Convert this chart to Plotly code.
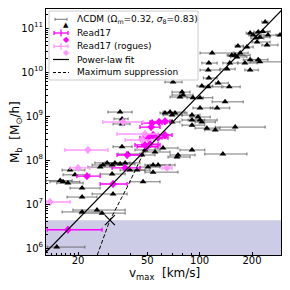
import plotly.graph_objects as go

# ---------------- data ----------------
# LCDM haloes: vmax [km/s], Mb [Msun/h], vmax error-bar ends
lcdm_v = [238, 195, 203, 217, 231, 247, 222, 211, 214, 244, 187, 166, 290,
          118, 153, 160, 171, 164, 195, 217, 222, 149, 182, 113, 112, 144, 195,
          113, 103, 112, 128, 148, 79.2, 80.3, 77.1, 91.6, 100.5, 140, 100.5, 126,
          67.6, 72.2, 69.4, 90.4, 100.5, 69.4, 63.2, 70.3,
          34.9, 35.8, 35.8, 90.4, 97.9, 103, 123, 160, 110, 90.4,
          35.8, 38.8, 48.5, 46.6, 55.4, 61.6, 75.1, 74.1, 90.4, 136,
          54.0, 54.0, 27.8, 29.4, 31.4, 32.6, 34.9, 37.3, 26.8, 39.8, 43.7, 50.5, 57.7,
          18.0, 19.2, 31.4, 16.4, 17.5, 15.8, 47.3, 21.1, 31.8, 21.1, 21.1, 25.7, 27.5, 15.1]
lcdm_M = [1.37e11, 7.7e10, 6.9e10, 8.1e10, 8.3e10, 6.9e10, 6.2e10, 5.9e10, 4.8e10, 4.1e10, 3.7e10, 3.9e10, 6.9e10,
          2.7e10, 2.4e10, 2.4e10, 2.7e10, 2.2e10, 1.9e10, 1.9e10, 1.7e10, 1.6e10, 1.6e10, 1.6e10, 1.11e10, 1.17e10, 1.11e10,
          7.3e9, 4.8e9, 4.6e9, 5.6e9, 4.6e9, 3.5e9, 3.0e9, 2.7e9, 2.6e9, 2.6e9, 2.1e9, 1.52e9, 1.52e9,
          1.23e9, 1.17e9, 1.05e9, 1.05e9, 8.1e8, 7.3e8, 1.17e9, 5.9e9,
          1.23e9, 8.6e8, 6.6e8, 8.1e8, 9.5e8, 7.3e8, 4.8e8, 5.6e8, 5.3e8, 6.2e8,
          2.0e8, 1.37e8, 1.69e8, 1.30e8, 1.52e8, 1.87e8, 1.30e8, 1.17e8, 1.69e8, 1.37e8,
          7.7e7, 5.3e7, 7.7e7, 8.6e7, 7.7e7, 8.6e7, 8.1e7, 8.6e7, 6.9e7, 5.9e7, 5.9e7, 6.9e7, 7.7e7,
          5.9e7, 4.6e7, 4.8e7, 3.2e7, 3.0e7, 3.4e7, 3.2e7, 2.3e7, 1.69e7, 1.44e7, 6.6e6, 7.3e6, 6.2e6, 1.05e6]
lcdm_vlo = [228, 185, 192, 205, 219, 234, 208, 197, 200, 228, 178, 160, 275,
            100.5, 144, 146, 158, 151, 178, 200, 195, 136, 166, 103, 100.5, 131, 182,
            105, 96.6, 105, 123, 136, 69.4, 69.4, 67.6, 84.6, 96.6, 118, 91.6, 115,
            61.6, 63.2, 61.6, 79.2, 85.8, 61.6, 59.2, 63.2,
            29.7, 32.2, 31.8, 79.2, 88.1, 94.1, 107, 123, 94.1, 79.2,
            31.8, 34.0, 42.5, 39.8, 48.5, 55.4, 67.6, 65.8, 77.1, 107,
            48.5, 48.5, 24.1, 25.0, 26.8, 28.6, 30.5, 32.6, 22.8, 34.9, 38.3, 45.4, 51.9,
            16.2, 16.4, 26.8, 13.8, 15.1, 13.1, 39.8, 18.0, 24.1, 17.3, 16.2, 18.7, 20.5, 13.3]
lcdm_vhi = [247, 211, 228, 247, 254, 282, 254, 234, 254, 282, 203, 178, 298,
            156, 182, 195, 190, 187, 222, 247, 298, 166, 214, 126, 131, 160, 217,
            126, 119, 134, 146, 171, 88.1, 91.6, 90.4, 105, 119, 178, 119, 149,
            82.4, 84.6, 79.2, 100.5, 126, 77.1, 72.2, 79.2,
            40.9, 38.8, 39.8, 107, 115, 123, 160, 238, 131, 107,
            40.9, 45.4, 59.2, 55.4, 67.6, 75.1, 94.1, 88.1, 107, 187,
            72.2, 75.1, 32.6, 34.9, 37.3, 39.8, 42.5, 45.4, 31.4, 48.5, 51.9, 59.2, 67.6,
            21.9, 23.4, 37.3, 20.5, 21.4, 18.5, 59.2, 26.8, 38.3, 25.7, 26.8, 37.3, 37.3, 21.9]

# Read17 dwarfs
read_v = [17.5, 22.5, 31.8, 37.3, 38.3, 48.5, 51.9, 49.8, 54.0, 50.5, 57.7, 63.2, 58.4, 53.3, 52.6, 63.2]
read_M = [2.6e6, 4.3e7, 2.85e7, 6.6e7, 1.30e8, 2.2e8, 2.3e8, 2.0e8, 3.7e8, 3.2e8, 3.2e8, 3.7e8, 7.3e8, 6.9e8, 5.6e8, 7.6e8]
read_vlo = [13.3, 19.7, 26.8, 31.4, 33.5, 42.5, 46.6, 43.7, 47.3, 45.4, 51.9, 57.7, 51.9, 46.6, 45.4, 59.2]
read_vhi = [27.5, 26.8, 38.3, 45.4, 45.4, 59.2, 57.7, 57.7, 63.2, 60.8, 65.8, 69.4, 64.9, 60.8, 59.2, 67.6]

# Read17 rogues
rogue_v = [22.8, 13.8, 20.0, 36.3, 64.9, 48.5, 46.6]
rogue_M = [1.69e8, 1.11e7, 6.6e7, 7.3e8, 6.6e7, 3.9e8, 2.85e8]
rogue_vlo = [16.8, 13.1, 18.0, 27.8, 60.8, 33.5, 37.3]
rogue_vhi = [29.7, 18.0, 23.4, 47.3, 69.4, 57.7, 55.4]

# relative vertical error on Read17 masses
read_Mfrac = 0.2

# lines
fit_v = [13.1, 298]
fit_M = [8.1e5, 2.6e11]
sup_v = [25.8, 30.5, 38.3, 48.5]
sup_M = [6.9e5, 4.3e6, 2.4e7, 1.69e8]
cross_v = [30.5]
cross_M = [4.3e6]
shade_top = 4.3e6

x_ticks = [20, 50, 100, 200]
y_ticks = [1e6, 1e7, 1e8, 1e9, 1e10, 1e11]

legend_labels = ["ΛCDM (Ω<sub>m</sub>=0.32, <i>σ</i><sub>8</sub>=0.83)",
                 "Read17", "Read17 (rogues)", "Power-law fit", "Maximum suppression"]
x_title = "v<sub>max</sub>  [km/s]"
y_title = "M<sub>b</sub>  [M<sub>⊙</sub>/h]"

# ---------------- geometry ----------------
FONT = "DejaVu Sans"
BODY = 8                      # default page margin of the html body
W = H = 290 - 2 * BODY        # figure fits the window exactly
SL, SR, ST, SB = 46, 281, 9, 255   # plot frame in window pixels
ML, MR, MT, MB = SL - BODY, W - (SR - BODY), ST - BODY, H - (SB - BODY)
PW, PH = SR - SL, SB - ST
MAG, ROG = "#ff00ff", "#ff99ff"


def px(x):
    return (x - SL) / PW


def py(y):
    return 1 - (y - ST) / PH


fig = go.Figure()

fig.add_trace(go.Scatter(x=[5, 1000, 1000, 5], y=[1e4, 1e4, shade_top, shade_top],
                         fill="toself", fillcolor="rgba(0,0,128,0.2)", mode="none",
                         showlegend=False, hoverinfo="skip"))

fig.add_trace(go.Scatter(
    x=lcdm_v, y=lcdm_M, mode="markers", name=legend_labels[0],
    marker=dict(symbol="triangle-up", size=6, color="black"),
    error_x=dict(type="data", symmetric=False,
                 array=[h - v for h, v in zip(lcdm_vhi, lcdm_v)],
                 arrayminus=[v - l for v, l in zip(lcdm_v, lcdm_vlo)],
                 color="#555555", thickness=0.8, width=1.5)))

fig.add_trace(go.Scatter(
    x=read_v, y=read_M, mode="markers", name=legend_labels[1],
    marker=dict(symbol="diamond", size=6, color=MAG),
    error_x=dict(type="data", symmetric=False,
                 array=[h - v for h, v in zip(read_vhi, read_v)],
                 arrayminus=[v - l for v, l in zip(read_v, read_vlo)],
                 color=MAG, thickness=1.3, width=2),
    error_y=dict(type="data", symmetric=False,
                 array=[m * read_Mfrac for m in read_M],
                 arrayminus=[m * read_Mfrac / (1 + read_Mfrac) for m in read_M],
                 color=MAG, thickness=1.3, width=0)))

fig.add_trace(go.Scatter(
    x=rogue_v, y=rogue_M, mode="markers", name=legend_labels[2],
    marker=dict(symbol="diamond", size=6, color=ROG),
    error_x=dict(type="data", symmetric=False,
                 array=[h - v for h, v in zip(rogue_vhi, rogue_v)],
                 arrayminus=[v - l for v, l in zip(rogue_v, rogue_vlo)],
                 color=ROG, thickness=1.3, width=2),
    error_y=dict(type="data", symmetric=False,
                 array=[m * read_Mfrac for m in rogue_M],
                 arrayminus=[m * read_Mfrac / (1 + read_Mfrac) for m in rogue_M],
                 color=ROG, thickness=1.3, width=0)))

fig.add_trace(go.Scatter(x=fit_v, y=fit_M, mode="lines", name=legend_labels[3],
                         line=dict(color="black", width=1.2)))
fig.add_trace(go.Scatter(x=sup_v, y=sup_M, mode="lines", name=legend_labels[4],
                         line=dict(color="black", width=1, dash="4px,2px")))
fig.add_trace(go.Scatter(x=cross_v, y=cross_M, mode="markers", showlegend=False,
                         marker=dict(symbol="x-thin", size=10, color="black",
                                     line=dict(color="black", width=1.2))))

# ---------- legend drawn as a matplotlib-style box ----------
shapes = [dict(type="rect", xref="paper", yref="paper", layer="above",
               x0=px(49), x1=px(198), y0=py(80), y1=py(11),
               fillcolor="rgba(255,255,255,0.8)", line=dict(color="#cccccc", width=1))]
annotations = []
rows = [19.3, 33.0, 46.3, 59.5, 72.5]
hx0, hx1, hc = 54, 68, 61


def seg(x0, y0, x1, y1, color, width=1, dash=None):
    d = dict(type="line", xref="paper", yref="paper", layer="above",
             x0=px(x0), y0=py(y0), x1=px(x1), y1=py(y1),
             line=dict(color=color, width=width))
    if dash:
        d["line"]["dash"] = dash
    return d


r = rows[0]
shapes += [seg(hx0 + 1, r, hx1 - 1, r, "#555555", 0.8),
           seg(hx0 + 1, r - 1.5, hx0 + 1, r + 1.5, "#555555", 0.8),
           seg(hx1 - 1, r - 1.5, hx1 - 1, r + 1.5, "#555555", 0.8)]
annotations.append(dict(x=px(hc), y=py(r), xref="paper", yref="paper", text="▲",
                        showarrow=False, font=dict(size=7, color="black", family=FONT)))
for r, c in ((rows[1], MAG), (rows[2], ROG)):
    shapes += [seg(hx0, r, hx1, r, c, 1.3),
               seg(hx0, r - 2, hx0, r + 2, c, 1.3),
               seg(hx1, r - 2, hx1, r + 2, c, 1.3),
               seg(hc, r - 3.5, hc, r + 3.5, c, 1.3)]
    annotations.append(dict(x=px(hc), y=py(r), xref="paper", yref="paper", text="◆",
                            showarrow=False, font=dict(size=8, color=c, family=FONT)))
shapes.append(seg(hx0 - 1, rows[3], hx1 + 1, rows[3], "black", 1.2))
shapes.append(seg(hx0 - 1, rows[4], hx1 + 1, rows[4], "black", 1, "3px,2px"))

for r, t in zip(rows, legend_labels):
    annotations.append(dict(x=px(75), y=py(r), xref="paper", yref="paper", text=t,
                            xanchor="left", yanchor="middle", showarrow=False,
                            font=dict(size=9, color="black", family=FONT)))

# axis titles
annotations.append(dict(x=px(164), y=py(274), xref="paper", yref="paper", text=x_title,
                        xanchor="center", yanchor="middle", showarrow=False,
                        font=dict(size=12, color="black", family=FONT)))
annotations.append(dict(x=px(16), y=py(132), xref="paper", yref="paper", text=y_title,
                        xanchor="center", yanchor="middle", showarrow=False, textangle=-90,
                        font=dict(size=12, color="black", family=FONT)))

x_minor = [14, 15, 16, 17, 18, 19, 30, 40, 60, 70, 80, 90, 300]
y_minor = [k * 10 ** e for e in range(5, 12) for k in range(2, 10)]

fig.update_layout(
    width=W, height=H,
    margin=dict(l=ML, r=MR, t=MT, b=MB),
    paper_bgcolor="white", plot_bgcolor="white",
    font=dict(family=FONT, size=10, color="black"),
    showlegend=False,
    shapes=shapes, annotations=annotations,
    xaxis=dict(type="log", range=[1.117, 2.4676], automargin=False,
               tickmode="array", tickvals=x_ticks, ticktext=[str(t) for t in x_ticks],
               ticks="inside", ticklen=3.5, tickwidth=0.8, tickcolor="black",
               ticklabelstandoff=-4,
               minor=dict(tickmode="array", tickvals=x_minor, ticks="inside",
                          ticklen=2, tickwidth=0.6, tickcolor="black"),
               showgrid=False, zeroline=False,
               showline=True, linecolor="black", linewidth=1, mirror=True,
               tickfont=dict(size=10)),
    yaxis=dict(type="log", range=[5.841, 11.432], automargin=False,
               tickmode="array", tickvals=y_ticks,
               ticktext=["10<sup>%d</sup>" % e for e in range(6, 12)],
               ticks="inside", ticklen=3.5, tickwidth=0.8, tickcolor="black",
               minor=dict(tickmode="array", tickvals=y_minor, ticks="inside",
                          ticklen=2, tickwidth=0.6, tickcolor="black"),
               showgrid=False, zeroline=False,
               showline=True, linecolor="black", linewidth=1, mirror=True,
               tickfont=dict(size=10)),
)

fig.write_html("out.html")
